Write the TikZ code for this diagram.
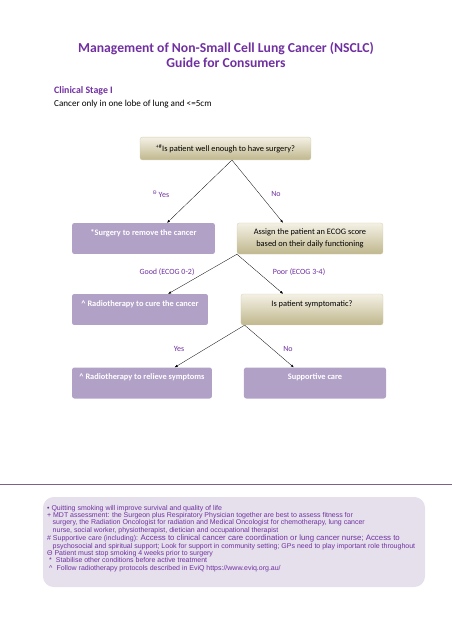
\documentclass[tikz,border=0pt]{standalone}
\usepackage{fontspec}
\setmainfont{Carlito}
\newfontfamily\notefont{Liberation Sans}
\usetikzlibrary{positioning, arrows.meta}

\definecolor{headpurple}{HTML}{7030A0}
\definecolor{lilac}{HTML}{B2A1C7}
\definecolor{notefill}{HTML}{E5E0EC}
\definecolor{rulecol}{HTML}{7A6384}
\definecolor{sandtop}{HTML}{F4F1E5}
\definecolor{sandbot}{HTML}{C0B78D}

\begin{document}
\begin{tikzpicture}[
    x=1.3165pt, y=-1.3165pt,
    box/.style={
        rounded corners=3pt,
        align=center,
        inner xsep=3pt,
        font=\fontsize{11}{15}\selectfont
    },
    choice/.style={
        box,
        fill=lilac,
        text=white,
        font=\bfseries\fontsize{11}{15}\selectfont,
        text height=11pt,
        text depth=19.8pt,
        inner ysep=5pt
    },
    query/.style={
        box,
        draw=sandbot!70,
        top color=sandtop,
        bottom color=sandbot
    },
    answer/.style={text=headpurple, inner sep=0pt, font=\fontsize{10.5}{12}\selectfont},
    heading/.style={text=headpurple, align=center, font=\bfseries\fontsize{18}{21}\selectfont},
    arrow/.style={-{Latex[length=4pt, width=3pt]}, thin}
]
\useasboundingbox (0,0) rectangle (452,640);

% header
\node[heading] (title) at (226,55) {Management of Non-Small Cell Lung Cancer (NSCLC)\\Guide for Consumers};
\node[anchor=west, inner sep=0pt, text=headpurple, font=\bfseries\fontsize{13}{15}\selectfont] (stage) at (54,91) {Clinical Stage I};
\node[anchor=west, inner sep=0pt, font=\fontsize{12}{14}\selectfont] (extent) at (54,104) {Cancer only in one lobe of lung and <=5cm};

% flow
\node[query, minimum width=225pt, minimum height=30pt] (fit) at (225.5,148.5) {\textsuperscript{+\#}Is patient well enough to have surgery?};
\node[choice, minimum width=188pt] (surgery) at (143.5,238.5) {*Surgery to remove the cancer};
\node[query, minimum width=192pt, minimum height=41pt] (ecog) at (310,238.5) {Assign the patient an ECOG score\\based on their daily functioning};
\node[choice, minimum width=179pt] (radcure) at (140,309.5) {\textasciicircum{} Radiotherapy to cure the cancer};
\node[query, minimum width=187pt, text height=11pt, text depth=19.8pt, inner ysep=5pt] (sympt) at (312,309.5) {Is patient symptomatic?};
\node[choice, minimum width=184pt] (radrelief) at (142,383) {\textasciicircum{} Radiotherapy to relieve symptoms};
\node[choice, minimum width=187pt] (support) at (315,383) {Supportive care};

\draw[arrow] ([xshift=8.5pt]fit.south) -- ([xshift=31pt]surgery.north);
\draw[arrow] ([xshift=8.5pt]fit.south) -- ([xshift=-35.5pt]ecog.north);
\draw[arrow] (ecog.south west) -- ([xshift=37pt]radcure.north);
\draw[arrow] (ecog.south west) -- ([xshift=-38pt]sympt.north);
\draw[arrow] ([xshift=5pt]sympt.south west) -- ([xshift=43pt]radrelief.north);
\draw[arrow] ([xshift=5pt]sympt.south west) -- ([xshift=-28pt]support.north);

\node[answer] (yesfit) at (161,194) {\textsuperscript{Θ} Yes};
\node[answer] (nofit) at (276,194) {No};
\node[answer] (good) at (167,272) {Good (ECOG 0-2)};
\node[answer] (poor) at (299,272) {Poor (ECOG 3-4)};
\node[answer] (yessym) at (179,349) {Yes};
\node[answer] (nosym) at (288,349) {No};

% footnotes
\draw[rulecol, line width=1pt] (0,484) -- (452,484);
\fill[notefill, rounded corners=14pt] (43,497) rectangle (425,587);
\node[anchor=north west, inner sep=0pt, align=left, text=headpurple, font=\notefont\fontsize{9.2}{9.6}\selectfont] (legend) at (47,505) {%
• Quitting smoking will improve survival and quality of life\\
+ MDT assessment: the Surgeon plus Respiratory Physician together are best to assess fitness for\\
\hspace*{0.8em}surgery, the Radiation Oncologist for radiation and Medical Oncologist for chemotherapy, lung cancer\\
\hspace*{0.8em}nurse, social worker, physiotherapist, dietician and occupational therapist\\[2pt]
\# Supportive care (including): {\fontsize{10.3}{9.6}\selectfont Access to clinical cancer care coordination or lung cancer nurse; Access to}\\
\hspace*{0.8em}psychosocial and spiritual support; Look for support in community setting; GPs need to play important role throughout\\
Θ Patient must stop smoking 4 weeks prior to surgery\\
\hspace*{0.3em}*\hspace*{0.3em} Stabilise other conditions before active treatment\\
\hspace*{0.3em}\textasciicircum\hspace*{0.3em} Follow radiotherapy protocols described in EviQ https://www.eviq.org.au/};

\end{tikzpicture}
\end{document}
